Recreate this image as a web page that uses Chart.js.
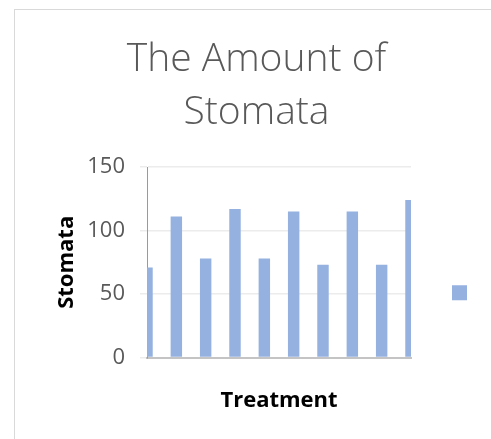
<!DOCTYPE html>
<html>
<head>
<meta charset="utf-8">
<script src="https://cdn.jsdelivr.net/npm/chart.js@4/dist/chart.umd.min.js"></script>
<style>
  html, body { margin: 0; padding: 0; background: #fff; overflow: hidden; }
  #frame { position: absolute; left: 14px; top: 9px; width: 483px; height: 440px; border: 1px solid #d9d9d9; }
  #frame canvas { display: block; }
</style>
</head>
<body>
<div id="frame"><canvas id="chart" width="483" height="430"></canvas></div>
<script>
// 資料：10 個處理，無類別標籤
const categories = ['', '', '', '', '', '', '', '', '', ''];
const stomata = [71, 111, 78, 117, 78, 115, 73, 115, 73, 124];
const yTicks = [0, 50, 100, 150];

const titleLines = ['The Amount of', 'Stomata'];
const barColor = '#95b1e0';

new Chart(document.getElementById('chart'), {
  type: 'bar',
  data: {
    labels: categories,
    datasets: [{ label: '', data: stomata, backgroundColor: barColor, borderWidth: 0 }]
  },
  options: {
    responsive: false,
    animation: false,
    layout: { padding: { top: 10, left: 10, right: 10, bottom: 26 } },
    datasets: { bar: { categoryPercentage: 1, barPercentage: 0.39 } },
    plugins: {
      tooltip: { enabled: false },
      title: {
        display: true,
        text: titleLines,
        color: '#595959',
        font: { family: 'Open Sans', size: 39, weight: '300', lineHeight: 1.359 },
        padding: { top: 13, bottom: 28 }
      },
      legend: {
        position: 'right',
        fullSize: false,
        // 空白標題只用來把圖例方塊往下推（Excel 置中於含軸標題的區域）
        title: { display: true, text: '', font: { size: 12, lineHeight: 1.25 }, padding: { top: 46, bottom: 0 } },
        labels: { boxWidth: 15, boxHeight: 15, padding: 41, font: { size: 22 } }
      }
    },
    scales: {
      x: {
        offset: false,
        grid: { display: false, drawTicks: false },
        border: { display: true, color: '#c4c4c4', width: 2 },
        ticks: { display: false },
        title: {
          display: true,
          text: 'Treatment',
          color: '#000',
          font: { family: 'Open Sans', size: 22, weight: 'bold', lineHeight: 1.2 },
          padding: { top: 30, bottom: 0 }
        }
      },
      y: {
        min: 0,
        max: 150,
        afterBuildTicks: (s) => { s.ticks = yTicks.map(v => ({ value: v })); },
        afterFit: (s) => { s.width = 122; },
        grid: { color: '#ececec', lineWidth: 1.5, tickLength: 7 },
        border: { display: true, color: '#9a9a9a', width: 1 },
        ticks: {
          color: '#595959',
          padding: 15,
          font: { family: 'Open Sans', size: 22 }
        },
        title: {
          display: true,
          text: 'Stomata',
          color: '#000',
          font: { family: 'Open Sans', size: 22, weight: 'bold', lineHeight: 1.2 },
          padding: { top: 29, bottom: 9 }
        }
      }
    }
  }
});
</script>
</body>
</html>
